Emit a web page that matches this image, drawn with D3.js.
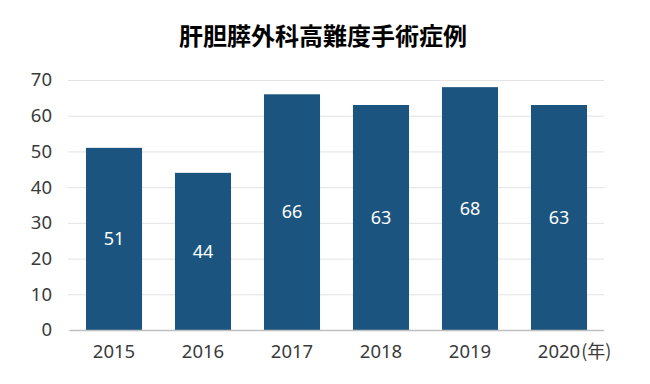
<!DOCTYPE html>
<html><head><meta charset="utf-8">
<script src="https://cdn.jsdelivr.net/npm/d3@7"></script>
<style>
body{margin:0;background:#fff;}
text{font-family:"Noto Sans","Noto Sans CJK JP",sans-serif;}
text.title{font-family:"Noto Sans CJK JP",sans-serif;}
</style></head>
<body><svg id="c" width="650" height="384"></svg>
<script>
const title = "肝胆膵外科高難度手術症例";
const categories = ["2015","2016","2017","2018","2019","2020"];
const values = [51,44,66,63,68,63];
const yTicks = [0,10,20,30,40,50,60,70];
const unitLabel = "(年)";

const svg = d3.select("#c");
const x = d3.scaleBand().domain(categories).range([69.5,603.5]).paddingInner(0.37).paddingOuter(0.185);
const y = d3.scaleLinear().domain([0,70]).range([330,80]);

svg.append("text").attr("class","title").attr("x",323).attr("y",37).attr("dy","0.35em").attr("text-anchor","middle")
  .attr("font-size",24).attr("font-weight","bold").attr("fill","#000").text(title);

// gridlines
const ya = svg.append("g").attr("transform","translate(68,0)")
  .call(d3.axisLeft(y).tickValues(yTicks).tickSize(-536).tickPadding(16));
ya.select(".domain").remove();
ya.selectAll(".tick line").attr("stroke","#e3e3e3").attr("stroke-width",1);
ya.selectAll(".tick text").style("font-size","18.5px").attr("fill","#3a3a3a").style("font-family","'Noto Sans',sans-serif");

svg.selectAll("rect.bar").data(values).join("rect").attr("class","bar")
  .attr("x",(d,i)=>x(categories[i])).attr("width",x.bandwidth())
  .attr("y",d=>y(d)).attr("height",d=>y(0)-y(d)).attr("fill","#1b557f");

svg.selectAll("text.val").data(values).join("text").attr("class","val")
  .attr("x",(d,i)=>x(categories[i])+x.bandwidth()/2).attr("y",d=>(y(d)+y(0))/2)
  .attr("dy","0.35em").attr("text-anchor","middle").style("font-size","18px").attr("fill","#fff").text(d=>d);

const xa = svg.append("g").attr("transform","translate(0,330)")
  .call(d3.axisBottom(x).tickSize(0).tickPadding(15));
xa.select(".domain").attr("stroke","#bfbfbf").attr("stroke-width",1.5);
xa.selectAll(".tick text").style("font-size","18.5px").attr("fill","#3a3a3a").style("font-family","'Noto Sans',sans-serif");

const last = categories[categories.length-1];
const lastNode = xa.selectAll(".tick text").nodes().pop();
const w = lastNode.getComputedTextLength();
svg.append("text").attr("x",x(last)+x.bandwidth()/2+w/2+1).attr("y",330+15).attr("dy","0.71em")
  .style("font-family","'Noto Sans CJK JP',sans-serif")
  .style("font-size","18px").attr("fill","#3a3a3a").text(unitLabel);
</script></body></html>
